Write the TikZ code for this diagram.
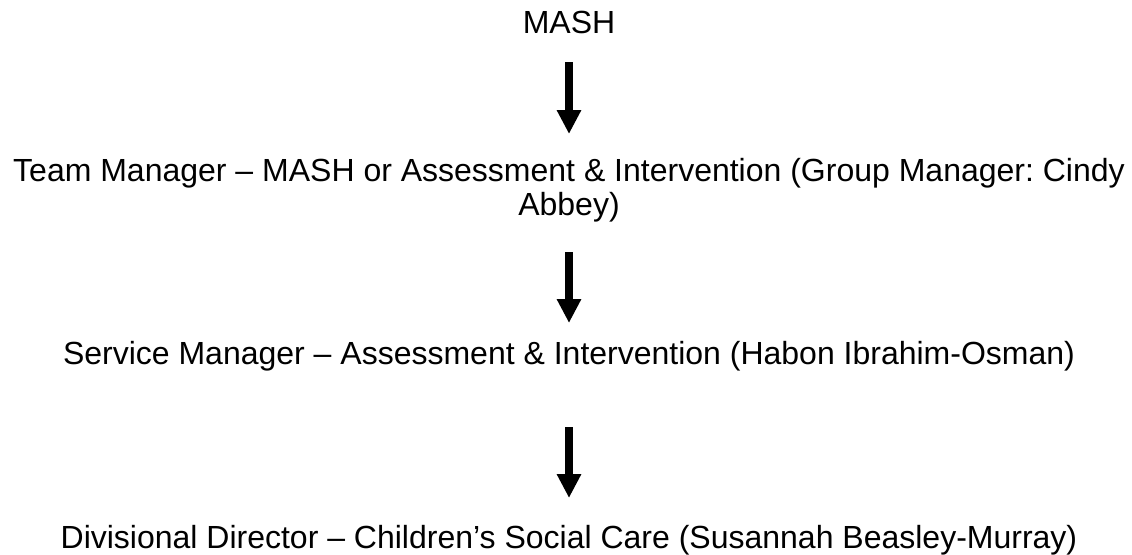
\documentclass[tikz,border=0pt]{standalone}
\usepackage{fontspec}
\setmainfont{Liberation Sans}
\usetikzlibrary{arrows.meta}
\frenchspacing
\begin{document}
\begin{tikzpicture}[x=1pt,y=-1pt,
  lbl/.style={anchor=base,inner sep=0pt,align=center,font=\fontsize{32}{34}\selectfont},
  bigarrow/.style={line width=8pt,-{Triangle[width=23pt,length=24pt]}}]
\useasboundingbox (0,0) rectangle (1132,554);
\node[lbl] (mash) at (569,33) {MASH};
\node[lbl] (team) at (569,215) {Team Manager – MASH or Assessment \& Intervention (Group Manager: Cindy\\Abbey)};
\node[lbl] (serv) at (569,364) {Service Manager – Assessment \& Intervention (Habon Ibrahim-Osman)};
\node[lbl] (div) at (569,548) {Divisional Director – Children’s Social Care (Susannah Beasley-Murray)};
\coordinate (a1s) at (569,62);  \coordinate (a1e) at (569,134);
\coordinate (a2s) at (569,252); \coordinate (a2e) at (569,323);
\coordinate (a3s) at (569,427); \coordinate (a3e) at (569,498);
\draw[bigarrow] (a1s) -- (a1e);
\draw[bigarrow] (a2s) -- (a2e);
\draw[bigarrow] (a3s) -- (a3e);
\end{tikzpicture}
\end{document}
